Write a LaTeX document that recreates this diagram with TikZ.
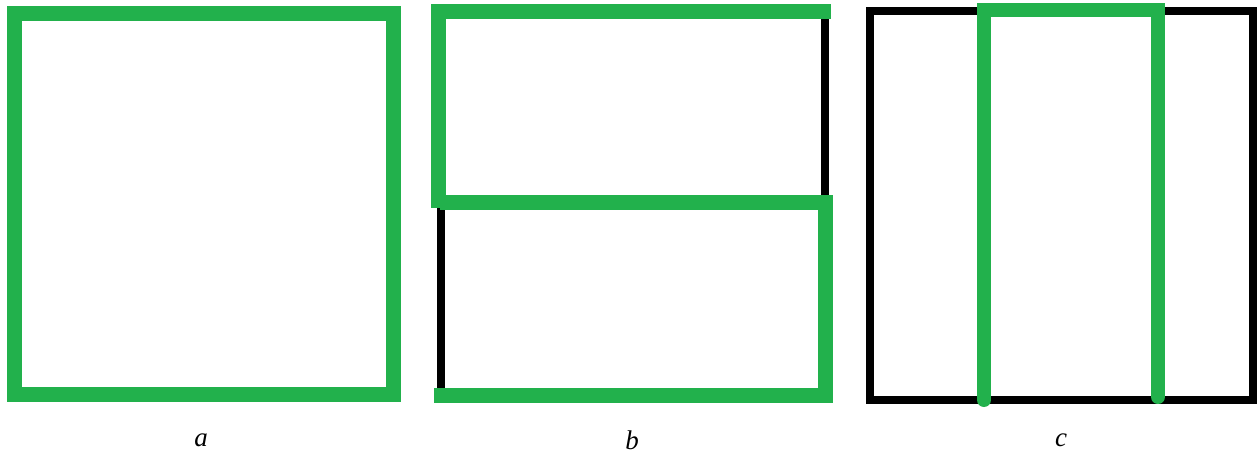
\documentclass[tikz,border=0pt]{standalone}
\usepackage{fontspec}
\setmainfont{Liberation Serif}
\definecolor{paintgreen}{RGB}{34,177,76}
\tikzset{
  greenline/.style={draw=paintgreen,line width=15pt,line join=miter},
  blackline/.style={draw=black,line width=8.5pt},
  caption/.style={font=\fontsize{27}{30}\selectfont\itshape}
}
\begin{document}
\begin{tikzpicture}[x=1pt,y=-1pt]
    \useasboundingbox (0,0) rectangle (1258,457);
    % a
    \draw[greenline] (14,14) rectangle (393,394);
    % b
    \coordinate (BA) at (441,12);  \coordinate (BB) at (825,395);
    \draw[blackline] (BA) rectangle (BB);
    \draw[greenline] (438,208)--(438,12)--(831,12);
    \draw[greenline] (440,203)--(825,203)--(825,395)--(434,395);
    % c
    \coordinate (CA) at (870,11);  \coordinate (CB) at (1253,400);
    \draw[blackline,line width=8pt] (CA) rectangle (CB);
    \draw[greenline,line width=14pt,line cap=round] (984,400)--(984,10)--(1158,10)--(1158,397);
    \node[caption] (la) at (201,440) {a};
    \node[caption] (lb) at (632,440) {b};
    \node[caption] (lc) at (1061,440) {c};
  \end{tikzpicture}
\end{document}
